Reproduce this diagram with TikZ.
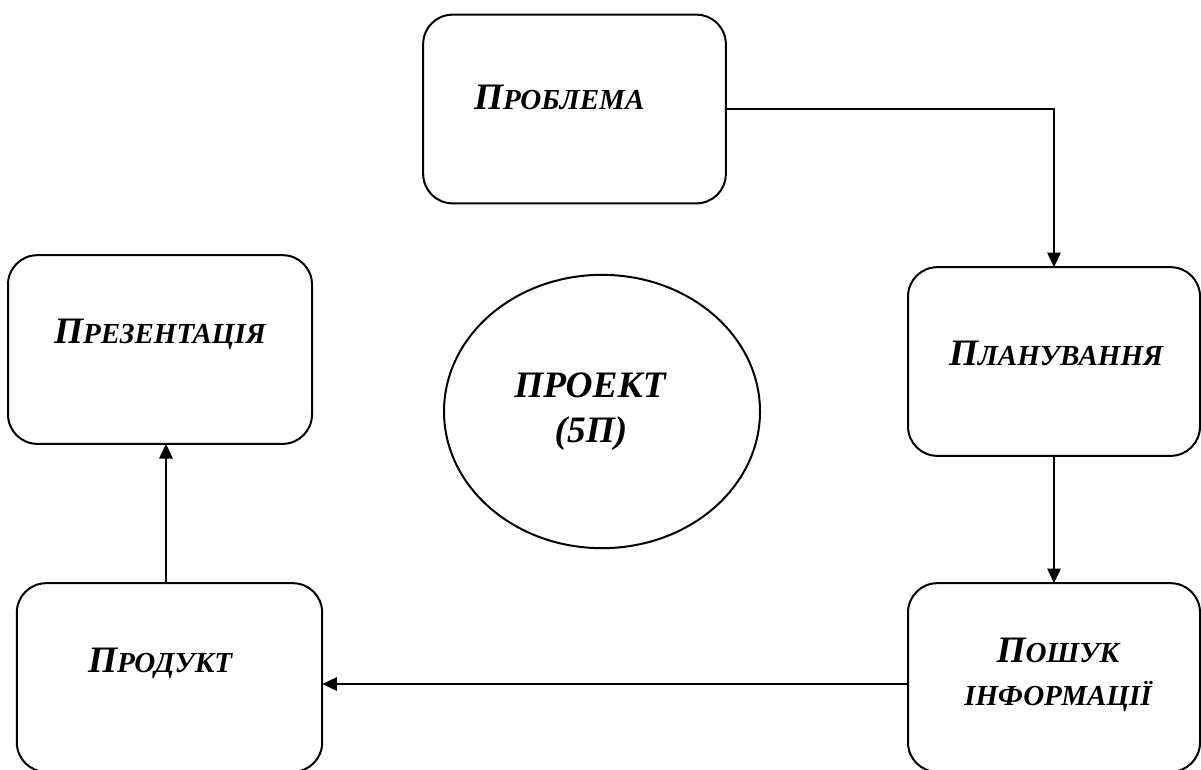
\documentclass[tikz,border=0pt]{standalone}
\usepackage{fontspec}
\setmainfont{Liberation Serif}
\usetikzlibrary{arrows.meta,shapes.geometric}

\newcommand{\smallcap}[1]{{\fontsize{21.8}{25}\selectfont #1}}

\tikzset{every picture/.style={line width=1.5pt}}
\tikzset{
  stage/.style={draw, rounded corners=22pt, minimum height=141.5pt, inner sep=0pt, outer sep=0pt},
  caption/.style={anchor=base west, inner sep=0pt, font=\fontsize{28}{32}\selectfont\bfseries\itshape},
  flow/.style={-{Triangle[width=10pt,length=11pt]}}
}

\begin{document}
\begin{tikzpicture}[x=0.75pt,y=0.75pt,yscale=-1,xscale=1]
\useasboundingbox (0,0) rectangle (1201,769);

%Rounded Rect: problem
\node (problema) [stage, minimum width=227pt] at (574.5,109) {};
%Rounded Rect: planning
\node (planuv) [stage, minimum width=219pt] at (1054,361.5) {};
%Rounded Rect: search
\node (poshuk) [stage, minimum width=219pt] at (1054,677.5) {};
%Rounded Rect: product
\node (produkt) [stage, minimum width=229pt] at (169.5,677.5) {};
%Rounded Rect: presentation
\node (prezent) [stage, minimum width=228pt] at (160,349.5) {};
%Shape: Ellipse
\node (proekt) [draw, ellipse, minimum width=237pt, minimum height=205pt, inner sep=0pt, outer sep=0pt] at (602,411.5) {};

\coordinate (lowline) at (0,684);
\coordinate (leftline) at (166,0);

%Connectors
\draw [flow] (problema.east) -| (planuv.north);
\draw [flow] (planuv.south) -- (poshuk.north);
\draw [flow] (poshuk.west |- lowline) -- (produkt.east |- lowline);
\draw [flow] (produkt.north -| leftline) -- (prezent.south -| leftline);

% Text Node
\node (problema-t) [caption] at (473,109) {П\smallcap{РОБЛЕМА}};
% Text Node
\node (planuv-t) [caption] at (948,365) {П\smallcap{ЛАНУВАННЯ}};
% Text Node
\node (poshuk-t1) [caption, anchor=base] at (1058,662) {П\smallcap{ОШУК}};
% Text Node
\node (poshuk-t2) [caption, anchor=base] at (1058,705) {\smallcap{ІНФОРМАЦІЇ}};
% Text Node
\node (produkt-t) [caption] at (87,672) {П\smallcap{РОДУКТ}};
% Text Node
\node (prezent-t) [caption] at (53,343) {П\smallcap{РЕЗЕНТАЦІЯ}};
% Text Node
\node (proekt-t1) [caption, anchor=base] at (590,397) {ПРОЕКТ};
% Text Node
\node (proekt-t2) [caption, anchor=base] at (591,442) {(5П)};

\end{tikzpicture}
\end{document}
